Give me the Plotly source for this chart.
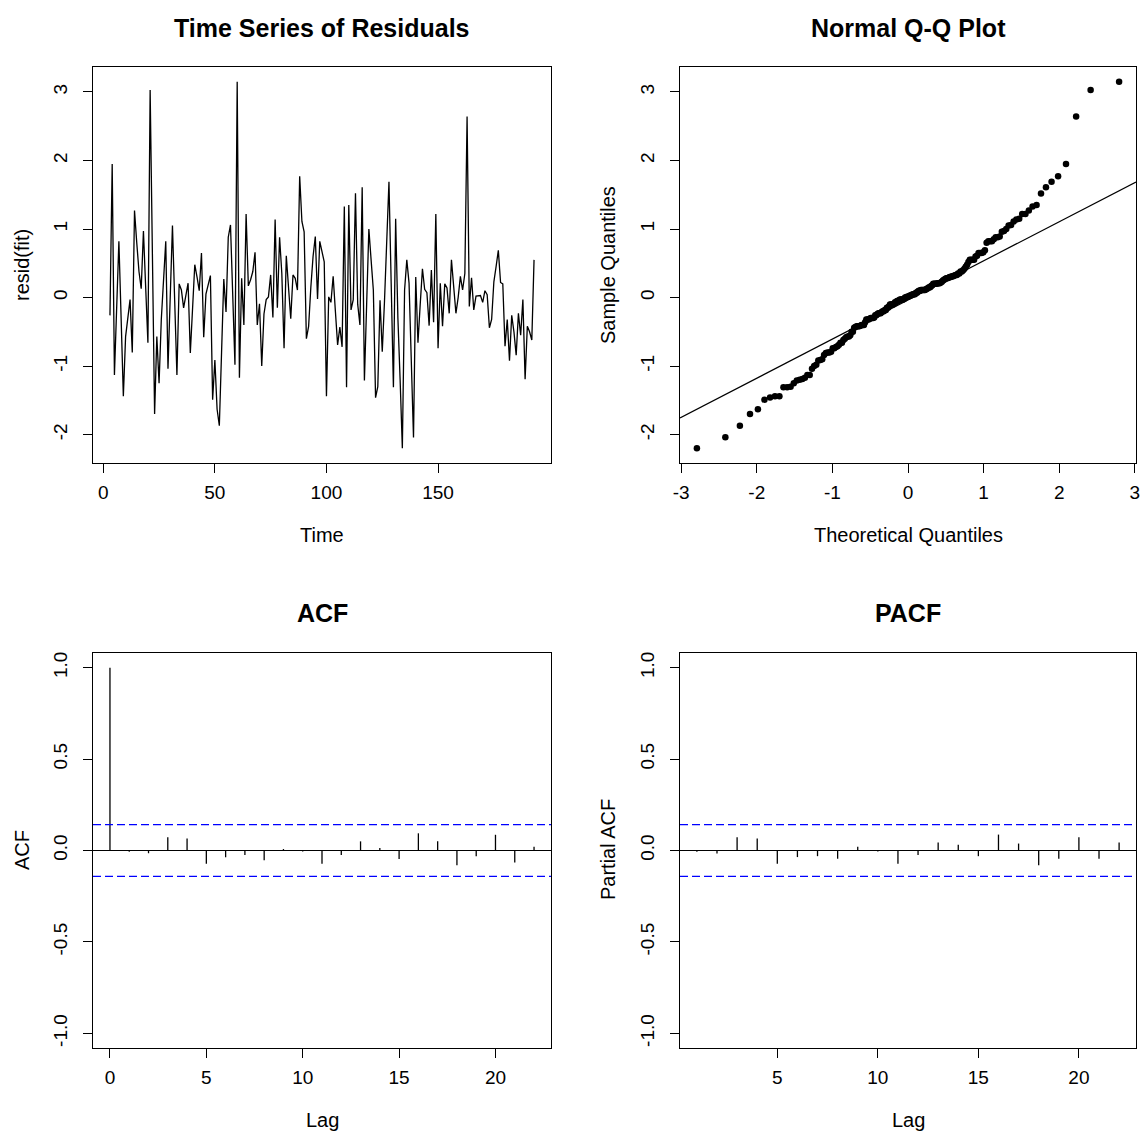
import numpy as np
import plotly.graph_objects as go
from statistics import NormalDist

# ---- residual series (time index starts at 3) ----
time_start = 3
resid = [
    -0.26, 1.95, -1.13, -0.20, 0.82, -0.30, -1.44, -0.57, -0.30, -0.03,
    -0.80, 1.27, 0.80, 0.38, 0.13, 0.97, 0.15, -0.66, 3.03, 0.65,
    -1.70, -0.57, -1.25, -0.32, 0.25, 0.82, -1.04, 0.00, 1.05, -0.05,
    -1.13, 0.20, 0.11, -0.15, 0.05, 0.21, -0.81, -0.10, 0.48, 0.30,
    0.10, 0.65, -0.58, 0.05, 0.18, 0.32, -1.49, -0.91, -1.63, -1.87,
    -0.80, 0.27, -0.21, 0.88, 1.06, 0.05, -0.98, 3.15, -1.17, 0.28,
    -0.40, 1.22, 0.17, 0.26, 0.38, 0.66, -0.40, -0.09, -1.00, -0.24,
    -0.03, 0.01, 0.33, -0.29, 1.14, -0.15, 0.88, 0.35, -0.74, 0.61,
    0.07, -0.31, 0.33, 0.28, 0.11, 1.77, 1.11, 0.96, -0.60, -0.42,
    0.15, 0.60, 0.89, -0.02, 0.82, 0.65, 0.52, -1.44, 0.01, -0.07,
    0.31, -0.20, -0.69, -0.43, -0.72, 1.33, -1.31, 1.35, -0.18, -0.03,
    1.52, -0.10, -0.40, 1.61, -1.21, -0.10, 1.00, 0.55, 0.11, -1.46,
    -1.30, -0.04, -0.79, -0.05, 0.85, 1.69, 0.20, -1.31, 1.15, -0.30,
    -1.20, -2.20, 0.11, 0.55, 0.21, -0.90, -2.04, 0.30, -0.66, -0.10,
    0.42, 0.12, 0.07, -0.41, 0.40, -0.36, 1.22, -0.74, 0.21, -0.42,
    0.20, 0.14, -0.23, 0.55, 0.09, -0.23, 0.00, 0.31, 0.11, 0.35,
    2.64, -0.13, 0.29, -0.18, 0.02, 0.03, 0.03, -0.07, 0.10, 0.04,
    -0.44, -0.32, 0.23, 0.45, 0.69, 0.22, 0.20, -0.71, -0.32, -0.92,
    -0.26, -0.50, -0.84, -0.23, -0.55, -0.03, -1.19, -0.42, -0.50, -0.62,
    0.55,
]

# ---- autocorrelations ----
acf_lags = list(range(0, 23))
acf_vals = [1.0, -0.007, -0.015, 0.073, 0.065, -0.073, -0.037, -0.025, -0.054,
            0.008, -0.005, -0.073, -0.025, 0.050, 0.014, -0.046, 0.094, 0.050,
            -0.081, -0.032, 0.086, -0.065, 0.021]
pacf_lags = list(range(1, 23))
pacf_vals = [-0.007, -0.016, 0.073, 0.065, -0.073, -0.036, -0.031, -0.045,
             0.020, -0.005, -0.073, -0.024, 0.044, 0.031, -0.031, 0.087, 0.038,
             -0.080, -0.045, 0.073, -0.045, 0.044]

# ---- tick labels ----
ts_xticks = [0, 50, 100, 150]
ts_xtext = ["0", "50", "100", "150"]
res_yticks = [-2, -1, 0, 1, 2, 3]
res_ytext = ["-2", "-1", "0", "1", "2", "3"]
qq_xticks = [-3, -2, -1, 0, 1, 2, 3]
qq_xtext = ["-3", "-2", "-1", "0", "1", "2", "3"]
acf_xticks = [0, 5, 10, 15, 20]
acf_xtext = ["0", "5", "10", "15", "20"]
pacf_xticks = [5, 10, 15, 20]
pacf_xtext = ["5", "10", "15", "20"]
cor_yticks = [-1.0, -0.5, 0.0, 0.5, 1.0]
cor_ytext = ["-1.0", "-0.5", "0.0", "0.5", "1.0"]

# ---- derived quantities ----
y = np.array(resid, dtype=float)
n = len(y)
t = np.arange(time_start, time_start + n)

nd = NormalDist()
p = (np.arange(1, n + 1) - 0.5) / n
theo = np.array([nd.inv_cdf(v) for v in p])
samp = np.sort(y)

q_y = np.quantile(y, [0.25, 0.75])
q_x = np.array([nd.inv_cdf(0.25), nd.inv_cdf(0.75)])
slope = (q_y[1] - q_y[0]) / (q_x[1] - q_x[0])
intercept = q_y[0] - slope * q_x[0]

ci = nd.inv_cdf(0.975) / np.sqrt(n)


def padded(lo, hi, frac=0.04):
    d = hi - lo
    return [lo - frac * d, hi + frac * d]


ts_xr = padded(t.min(), t.max())
res_yr = padded(y.min(), y.max())
qq_xr = padded(theo.min(), theo.max())
acf_xr = padded(min(acf_lags), max(acf_lags))
pacf_xr = padded(min(pacf_lags), max(pacf_lags))
cor_yr = padded(-1.0, 1.0)

# ---- page geometry ----
W, H = 1146, 1133
FONT = "Liberation Sans, Arial, Helvetica, sans-serif"
TICK = 19
LAB = 20
MAIN = 25


def fx(px):
    return px / W


def fy(py):
    return 1 - py / H


col_l = [fx(93), fx(551)]
col_r = [fx(680), fx(1136)]
row_t = [fy(463), fy(67)]
row_b = [fy(1048), fy(653)]


def xaxis(dom, anchor, rng, vals, text):
    return dict(domain=dom, anchor=anchor, range=rng, tickmode="array",
                tickvals=vals, ticktext=text, showline=True, mirror=True,
                linecolor="black", linewidth=1, ticks="outside", ticklen=9,
                tickwidth=1, tickcolor="black", showgrid=False, zeroline=False,
                automargin=False,
                tickfont=dict(family=FONT, size=TICK, color="black"),
                ticklabelstandoff=3)


def yaxis(dom, anchor, rng, vals, text):
    return dict(domain=dom, anchor=anchor, range=rng, tickmode="array",
                tickvals=vals, ticktext=text, showline=True, mirror=True,
                linecolor="black", linewidth=1, ticks="outside", ticklen=9,
                tickwidth=1, tickcolor="black", showgrid=False, zeroline=False,
                automargin=False, tickangle=-90,
                tickfont=dict(family=FONT, size=TICK, color="black"),
                ticklabelstandoff=8)


fig = go.Figure()

# time series of residuals
fig.add_trace(go.Scatter(x=t, y=y, mode="lines", xaxis="x", yaxis="y",
                         line=dict(color="black", width=1.3)))

# normal Q-Q plot with reference line through the quartiles
fig.add_trace(go.Scatter(x=theo, y=samp, mode="markers", xaxis="x2", yaxis="y2",
                         marker=dict(color="black", size=6.5, line=dict(width=0))))
fig.add_trace(go.Scatter(x=qq_xr, y=[intercept + slope * v for v in qq_xr],
                         mode="lines", xaxis="x2", yaxis="y2",
                         line=dict(color="black", width=1.2)))


def spikes(lags, vals):
    xs, ys = [], []
    for lag, v in zip(lags, vals):
        xs += [lag, lag, None]
        ys += [0, v, None]
    return xs, ys


ax, ay = spikes(acf_lags, acf_vals)
fig.add_trace(go.Scatter(x=ax, y=ay, mode="lines", xaxis="x3", yaxis="y3",
                         line=dict(color="black", width=1.3)))
px_, py_ = spikes(pacf_lags, pacf_vals)
fig.add_trace(go.Scatter(x=px_, y=py_, mode="lines", xaxis="x4", yaxis="y4",
                         line=dict(color="black", width=1.3)))

shapes = []
for xr_name, yr_name in (("x3", "y3"), ("x4", "y4")):
    shapes.append(dict(type="line", xref=f"{xr_name} domain", yref=yr_name,
                       x0=0, x1=1, y0=0, y1=0,
                       line=dict(color="black", width=1)))
    for lvl in (ci, -ci):
        shapes.append(dict(type="line", xref=f"{xr_name} domain", yref=yr_name,
                           x0=0, x1=1, y0=lvl, y1=lvl,
                           line=dict(color="#0000FF", width=1.2, dash="8px,4px")))


def label(text, x, y_, size=LAB, angle=0, bold=False):
    return dict(text=f"<b>{text}</b>" if bold else text, x=fx(x), y=fy(y_),
                xref="paper", yref="paper", showarrow=False, textangle=angle,
                xanchor="center", yanchor="middle",
                font=dict(family=FONT, size=size, color="black"))


annotations = [
    label("Time Series of Residuals", 322, 28, size=MAIN, bold=True),
    label("Normal Q-Q Plot", 908, 28, size=MAIN, bold=True),
    label("ACF", 322, 613, size=MAIN, bold=True),
    label("PACF", 908, 613, size=MAIN, bold=True),
    label("Time", 322, 535),
    label("Theoretical Quantiles", 908, 535),
    label("Lag", 322, 1120),
    label("Lag", 908, 1120),
    label("resid(fit)", 22, 265, angle=-90),
    label("Sample Quantiles", 608, 265, angle=-90),
    label("ACF", 22, 850, angle=-90),
    label("Partial ACF", 608, 850, angle=-90),
]

fig.update_layout(
    template="none",
    width=W, height=H, margin=dict(l=0, r=0, t=0, b=0, pad=0, autoexpand=False),
    paper_bgcolor="white", plot_bgcolor="white", showlegend=False,
    xaxis=xaxis(col_l, "y", ts_xr, ts_xticks, ts_xtext),
    yaxis=yaxis(row_t, "x", res_yr, res_yticks, res_ytext),
    xaxis2=xaxis(col_r, "y2", qq_xr, qq_xticks, qq_xtext),
    yaxis2=yaxis(row_t, "x2", res_yr, res_yticks, res_ytext),
    xaxis3=xaxis(col_l, "y3", acf_xr, acf_xticks, acf_xtext),
    yaxis3=yaxis(row_b, "x3", cor_yr, cor_yticks, cor_ytext),
    xaxis4=xaxis(col_r, "y4", pacf_xr, pacf_xticks, pacf_xtext),
    yaxis4=yaxis(row_b, "x4", cor_yr, cor_yticks, cor_ytext),
    shapes=shapes, annotations=annotations,
)

fig.write_html("out.html")
